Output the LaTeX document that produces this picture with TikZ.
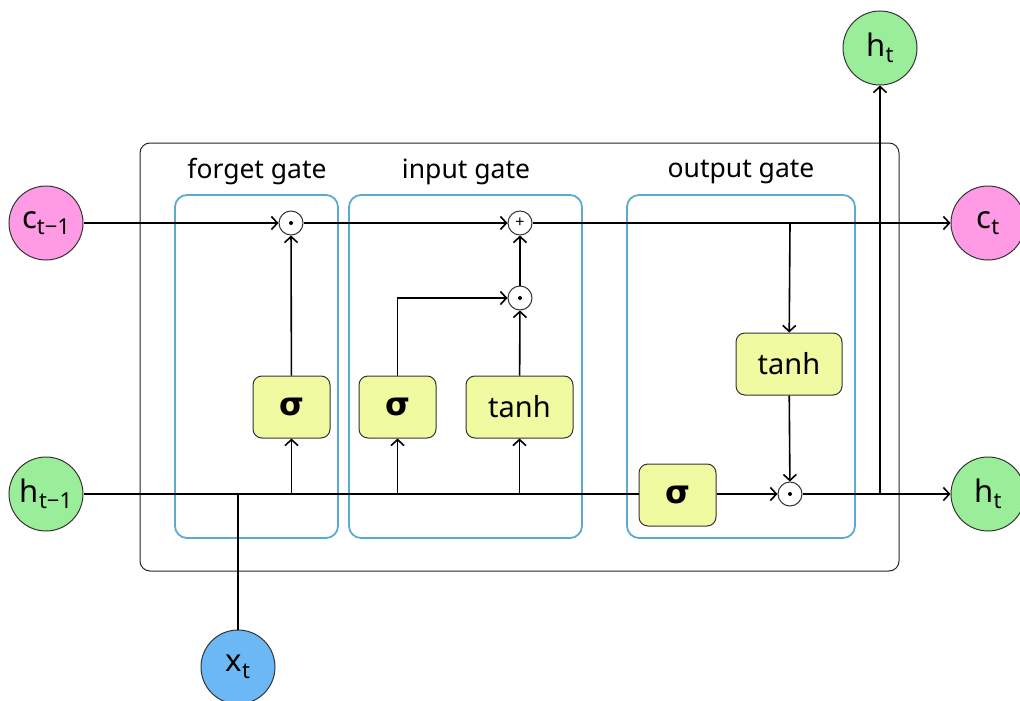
\documentclass[tikz,border=0pt]{standalone}
\usepackage{fontspec}
\setmainfont{Noto Sans}
\newfontfamily\sigfont{DejaVu Sans}
\usetikzlibrary{arrows.meta}
\definecolor{pinkc}{RGB}{255,155,228}
\definecolor{greenc}{RGB}{154,238,154}
\definecolor{bluec}{RGB}{108,184,245}
\definecolor{yellowc}{RGB}{240,250,160}
\definecolor{gateblue}{RGB}{92,170,205}
\newcommand\sbs[1]{\raisebox{-0.4ex}{\fontsize{22}{22}\selectfont #1}}
\tikzset{
  circ/.style={circle, draw=black!80, line width=1pt, minimum size=74pt, inner sep=0pt, font=\fontsize{31}{31}\selectfont},
  fn/.style={rectangle, rounded corners=9pt, draw=black!80, line width=1pt, fill=yellowc, minimum height=62pt, inner sep=0pt, font=\fontsize{29}{29}\selectfont},
  sigbox/.style={fn, minimum width=77pt, font=\fontsize{32}{32}\sigfont\bfseries},
  gatebox/.style={rectangle, rounded corners=12pt, draw=gateblue, line width=1.8pt, minimum height=343pt, inner sep=0pt},
  gatelabel/.style={font=\fontsize{26.5}{26.5}\selectfont},
  opnode/.style={circle, draw=black!80, fill=white, line width=1pt, minimum size=24pt, inner sep=0pt, font=\fontsize{16}{16}\selectfont},
  ln/.style={line width=1.6pt, black},
  arr/.style={ln, -{Straight Barb[length=6pt,width=13pt,line width=1.6pt]}},
}
\begin{document}
\begin{tikzpicture}[x=1pt,y=-1pt]
\useasboundingbox (0,0) rectangle (1020,701);
% outer box
\node[rectangle, rounded corners=10pt, draw=black!85, line width=1pt, minimum width=759pt, minimum height=428pt, inner sep=0pt] (cell) at (519.5,357) {};
% gate boxes
\node[gatebox, minimum width=163pt] (fgate) at (256.5,366.5) {};
\node[gatebox, minimum width=233pt] (igate) at (465.5,366.5) {};
\node[gatebox, minimum width=228pt] (ogate) at (741,366.5) {};
\node[gatelabel] (flabel) at (257,172) {forget gate};
\node[gatelabel] (ilabel) at (466,172) {input gate};
\node[gatelabel] (olabel) at (741,172) {output gate};
% inputs / outputs
\node[circ, fill=pinkc] (cprev) at (46,223) {c\sbs{t−1}};
\node[circ, fill=greenc] (hprev) at (46,494) {h\sbs{t−1}};
\node[circ, fill=bluec] (xt) at (238,667) {x\sbs{t}};
\node[circ, fill=greenc] (htop) at (880,48) {h\sbs{t}};
\node[circ, fill=pinkc] (cnext) at (988,223) {c\sbs{t}};
\node[circ, fill=greenc] (hnext) at (988,494) {h\sbs{t}};
% function boxes
\node[sigbox] (sigF) at (291.5,407) {σ};
\node[sigbox] (sigI) at (397.5,407) {σ};
\node[fn, minimum width=107pt] (tanhI) at (519.5,407) {tanh};
\node[fn, minimum width=106pt] (tanhO) at (789,364) {tanh};
\node[sigbox] (sigO) at (677.5,495) {σ};
% operators
\node[opnode] (fm) at (291,223) {};
\node[opnode] (plus) at (520,223) {+};
\node[opnode] (im) at (520,298) {};
\node[opnode] (om) at (790,494) {};
\fill (fm.center) circle (2pt);
\fill (im.center) circle (2pt);
\fill (om.center) circle (2pt);
% connectors
\draw[arr] (cprev) -- (fm);
\draw[arr] (fm) -- (plus);
\draw[arr] (plus) -- (cnext);
\draw[arr] (plus -| om) -- (tanhO);
\draw[arr] (tanhO) -- (om);
\draw[arr] (sigO.east |- om) -- (om);
\draw[arr] (om) -- (hnext);
\draw[arr] (htop |- om) -- (htop);
\draw[ln] (hprev) -- (sigO.west |- hprev);
\draw[arr] (sigF |- hprev) -- (sigF);
\draw[arr] (sigI |- hprev) -- (sigI);
\draw[arr] (tanhI |- hprev) -- (tanhI);
\draw[arr] (sigF) -- (fm);
\draw[arr] (sigI.north) |- (im);
\draw[arr] (tanhI) -- (im);
\draw[arr] (im) -- (plus);
\draw[ln] (xt) -- (xt |- hprev);
\end{tikzpicture}
\end{document}
